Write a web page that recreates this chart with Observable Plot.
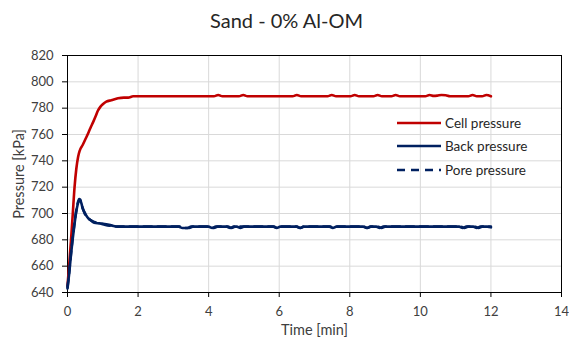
<!DOCTYPE html>
<html>
<head>
<meta charset="utf-8">
<script src="https://cdn.jsdelivr.net/npm/d3@7"></script>
<script src="https://cdn.jsdelivr.net/npm/@observablehq/plot@0.6"></script>
<style>
  body { margin: 0; background: #fff; }
  #wrap { position: relative; width: 569px; height: 345px; font-family: Lato, "Open Sans", sans-serif; }
  #title { height: 40px; box-sizing: border-box; padding-top: 10px; line-height: 20px; font-size: 20px; text-align: center; color: #262626; padding-left: 4px; }
  #legend { position: absolute; left: 397px; top: 111px; font-size: 13.5px; color: #262626; }
  .row { display: flex; align-items: center; height: 23.6px; }
  .row svg { margin-right: 4px; }
  g[aria-label="x-axis label"], g[aria-label="y-axis label"] { font-size: 14.5px; fill: #404040; }
</style>
</head>
<body>
<div id="wrap">
  <div id="title">Sand - 0% Al-OM</div>
  <div id="chart"></div>
  <div id="legend"></div>
</div>
<script>
// ---- data ----
const seriesNames = ["Cell pressure", "Back pressure", "Pore pressure"];
const seriesColors = ["#C00000", "#002060", "#002060"];
const seriesDash = [null, null, "8,6"];
const xTicks = [0, 2, 4, 6, 8, 10, 12, 14];
const yTicks = [640, 660, 680, 700, 720, 740, 760, 780, 800, 820];

const cellTime = [0, 0.05, 0.1, 0.15, 0.2, 0.25, 0.3, 0.35, 0.43, 0.5, 0.57, 0.65, 0.72, 0.8, 0.86, 0.93, 1.0, 1.1, 1.24, 1.43, 1.6, 1.72, 1.86, 2.0,
  4.15, 4.27, 4.39, 4.86, 4.98, 5.1, 6.38, 6.5, 6.62, 7.37, 7.49, 7.61, 8.02, 8.14, 8.26, 8.67, 8.79, 8.91, 9.18, 9.3, 9.42,
  10.14, 10.26, 10.38, 10.48, 10.6, 10.72, 10.84, 11.36, 11.48, 11.6, 11.75, 11.87, 12.0];
const cellPressure = [645, 662, 680, 700, 720, 734, 743, 748, 752, 756, 760, 765, 769, 774, 778, 781, 783, 785, 786, 787.5, 788, 788, 789, 789,
  789, 790, 789, 789, 790, 789, 789, 790, 789, 789, 790, 789, 789, 790, 789, 789, 790, 789, 789, 790, 789,
  789, 790, 789.3, 789.5, 790, 789.8, 789, 789, 790, 789, 789, 790, 789];

const backTime = [0, 0.05, 0.1, 0.14, 0.19, 0.24, 0.29, 0.33, 0.36, 0.39, 0.43, 0.48, 0.52, 0.57, 0.65, 0.76, 0.9, 1.05, 1.24, 1.43, 1.6,
  3.15, 3.26, 3.4, 3.5, 4.0, 4.1, 4.2, 4.51, 4.61, 4.71, 4.8, 4.9, 5.0, 5.83, 5.93, 6.03, 6.49, 6.59, 6.69, 7.42, 7.52, 7.62,
  8.38, 8.48, 8.58, 8.75, 8.85, 8.95, 11.1, 11.2, 11.3, 11.5, 11.6, 11.7, 11.9, 12.0];
const backPressure = [643, 655, 669, 679, 690, 700, 707, 710, 710, 708, 704, 701, 699, 697, 695, 693, 692.5, 692, 691, 690, 690,
  690, 689, 689, 690, 690, 689, 690, 690, 689, 690, 690, 689, 690, 690, 689, 690, 690, 689, 690, 690, 689, 690,
  690, 689, 690, 690, 689, 690, 690, 689, 690, 690, 689, 690, 690, 689.5];

const poreTime = [0, 0.05, 0.1, 0.14, 0.19, 0.24, 0.29, 0.33, 0.36, 0.39, 0.43, 0.48, 0.52, 0.57, 0.65, 0.76, 0.9, 1.05, 1.24, 1.43, 1.6,
  3.2, 3.3, 3.45, 3.55, 4.05, 4.15, 4.25, 4.55, 4.65, 4.75, 5.85, 5.95, 6.05, 6.5, 6.6, 6.7, 7.45, 7.55, 7.65,
  8.4, 8.5, 8.6, 8.8, 8.9, 9.0, 11.15, 11.25, 11.35, 11.55, 11.65, 11.75, 11.9, 12.0];
const porePressure = [644, 656, 670, 680, 691, 701, 708, 711, 710.5, 708, 704, 700.5, 698.5, 697, 695, 693.5, 692.5, 691.5, 690.5, 690, 690,
  690, 689, 689, 690, 690, 689, 690, 690, 689, 690, 690, 689, 690, 690, 689, 690, 690, 689, 690,
  690, 689, 690, 690, 689, 690, 690, 689, 690, 690, 689, 690, 690, 690];

// ---- build tables ----
const toRows = (ts, vs) => ts.map((t, i) => ({t, v: vs[i]}));
const cellRows = toRows(cellTime, cellPressure);
const backRows = toRows(backTime, backPressure);
const poreRows = toRows(poreTime, porePressure);

const lw = 2.6;
const chart = Plot.plot({
  width: 569,
  height: 305,
  marginTop: 15,
  marginBottom: 53,
  marginLeft: 67,
  marginRight: 8,
  style: {fontFamily: "Lato, 'Open Sans', sans-serif", fontSize: "13px", color: "#404040", background: "#fff"},
  x: {domain: [0, 14]},
  y: {domain: [640, 820]},
  marks: [
    Plot.gridX(xTicks, {stroke: "#d9d9d9", strokeOpacity: 1}),
    Plot.gridY(yTicks, {stroke: "#d9d9d9", strokeOpacity: 1}),
    Plot.frame({stroke: "#000", strokeWidth: 1}),
    Plot.axisX({ticks: xTicks, tickSize: 5, tickPadding: 9, fontSize: 13, stroke: "#000", label: "Time [min]", labelAnchor: "center", labelArrow: "none", labelOffset: 42}),
    Plot.axisY({ticks: yTicks, tickSize: 5, tickPadding: 9, fontSize: 13, stroke: "#000", label: "Pressure [kPa]", labelAnchor: "center", labelArrow: "none", labelOffset: 54}),
    Plot.line(cellRows, {x: "t", y: "v", stroke: seriesColors[0], strokeWidth: lw, curve: "monotone-x"}),
    Plot.line(backRows, {x: "t", y: "v", stroke: seriesColors[1], strokeWidth: lw, curve: "monotone-x"}),
    Plot.line(poreRows, {x: "t", y: "v", stroke: seriesColors[2], strokeWidth: lw, strokeDasharray: seriesDash[2], curve: "monotone-x"})
  ]
});
document.getElementById("chart").appendChild(chart);

// ---- legend ----
const legend = document.getElementById("legend");
seriesNames.forEach((name, i) => {
  const row = document.createElement("div");
  row.className = "row";
  const dash = seriesDash[i] ? `stroke-dasharray="${seriesDash[i]}"` : "";
  row.innerHTML = `<svg width="44" height="8"><line x1="0" x2="44" y1="4" y2="4" stroke="${seriesColors[i]}" stroke-width="${lw}" ${dash}/></svg><span>${name}</span>`;
  legend.appendChild(row);
});
</script>
</body>
</html>
